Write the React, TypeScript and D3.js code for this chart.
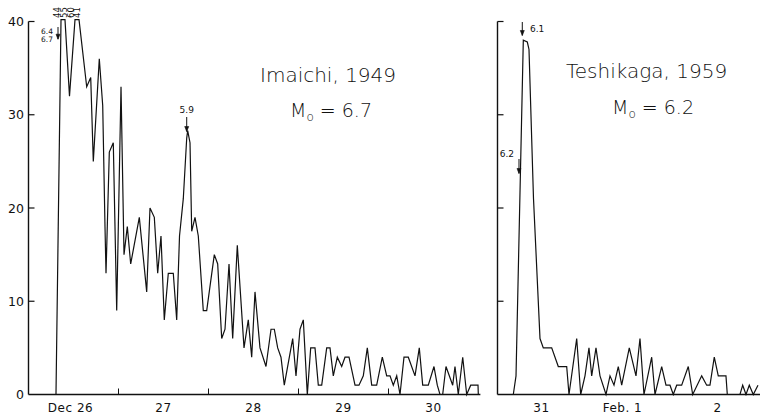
import React from 'react';
import * as d3 from 'd3';

// Imaichi 1949: hours since Dec 26 00:00, aftershock counts
const imaichiHours = [7.33, 8.67, 9.73, 10.93, 12.4, 13.47, 15.52, 16.59, 17.28, 18.88, 19.79, 20.4, 20.67, 21.55, 22.61, 23.52, 24.67, 25.47, 26.35, 27.25, 29.55, 31.52, 32.4, 33.55, 34.45, 35.33, 36.21, 37.28, 38.61, 39.52, 40.27, 41.28, 42.19, 42.45, 43.07, 43.52, 44.4, 45.28, 46.61, 47.52, 49.55, 50.45, 51.52, 52.4, 53.47, 54.45, 55.68, 57.47, 58.61, 59.52, 60.4, 61.73, 63.33, 64.67, 65.55, 66.45, 67.33, 68.21, 70.45, 71.33, 72.4, 73.28, 74.35, 75.25, 76.4, 77.28, 78.19, 79.52, 80.4, 81.28, 82.35, 83.52, 84.4, 85.47, 87.07, 88.13, 89.28, 90.35, 91.52, 92.85, 94.35, 95.52, 96.4, 97.28, 98.19, 99.07, 100.13, 101.28, 103.07, 104.21, 105.12, 106.61, 108.13, 109.01, 109.73, 110.45, 111.33, 113.12, 113.73, 114.61, 115.79, 116.85, 117.92, 119.07, 119.87, 119.95];
const imaichiCounts = [0, 44, 55, 32, 60, 41, 33, 34, 25, 36, 31, 18, 13, 26, 27, 9, 33, 15, 18, 14, 19, 11, 20, 19, 13, 17, 8, 13, 13, 8, 17, 21, 27.5, 28.3, 27, 17.5, 19, 17, 9, 9, 15, 14, 6, 7, 14, 6, 16, 5, 8, 4, 11, 5, 3, 7, 7, 5, 4, 1, 6, 2, 7, 8, 0, 5, 5, 1, 1, 5, 5, 2, 4, 3, 4, 4, 1, 1, 2, 5, 1, 1, 4, 2, 2, 1, 2, 0, 4, 4, 2, 5, 1, 1, 3, 1, 0, 0, 3, 1, 3, 0, 4, 0, 1, 1, 1, 0];

// Teshikaga 1959: hours since Jan 31 00:00, aftershock counts
const teshikagaHours = [4.31, 5.05, 7.04, 8.13, 8.59, 9.82, 11.59, 12.49, 14.78, 16.58, 18.87, 19.5, 21.6, 22.69, 23.86, 24.95, 25.69, 26.86, 27.95, 29.59, 30.68, 31.77, 32.94, 33.87, 35.94, 37.77, 38.86, 39.95, 42.05, 42.95, 44.78, 45.95, 47.04, 47.94, 48.87, 50.23, 52.03, 53.23, 55.69, 57.05, 57.95, 59.12, 60.21, 62.31, 62.67, 66.13, 66.87, 67.77, 68.67, 69.76, 71.04];
const teshikagaCounts = [0, 2, 38, 37.8, 37, 21, 6, 5, 5, 3, 3, 0, 6, 0, 2, 5, 2, 5, 2, 0, 2, 1, 3, 1, 5, 2, 6, 0, 4, 0, 3, 1, 1, 0, 1, 1, 3, 0, 2, 1, 1, 4, 2, 2, 0, 0, 1, 0, 1, 0, 1];

const yTicks = [0, 10, 20, 30, 40];
const leftDayLabels = ['Dec 26', '27', '28', '29', '30'];
const rightDayLabels = ['31', 'Feb. 1', '2'];
const peakLabels = ['44', '55', '60', '41'];
const peakLabelHours = [7.6, 9.4, 11.2, 13.0];

const FONT = '"DejaVu Sans", sans-serif';

export default function App() {
  const W = 760, H = 416;
  const y = d3.scaleLinear().domain([0, 40]).range([394.5, 21.5]);
  const xL = d3.scaleLinear().domain([0, 120]).range([28.5, 478.5]);
  const xR = d3.scaleLinear().domain([0, 72]).range([497.5, 761.5]);
  const clipV = (v: number) => y(Math.min(v, 40.2));

  const leftData = imaichiHours.map((h, i) => [h, imaichiCounts[i]] as [number, number]);
  const rightData = teshikagaHours.map((h, i) => [h, teshikagaCounts[i]] as [number, number]);
  const lineL = d3.line<[number, number]>().x(d => xL(d[0])).y(d => clipV(d[1]));
  const lineR = d3.line<[number, number]>().x(d => xR(d[0])).y(d => clipV(d[1]));

  const stroke = '#111';
  const txt = '#111';
  const arrow = (x: number, y1: number, y2: number, key: string) => (
    <g key={key}>
      <line x1={x} x2={x} y1={y1} y2={y2} stroke={stroke} strokeWidth={1} />
      <path d={`M${x - 2},${y2 - 5} L${x},${y2} L${x + 2},${y2 - 5} Z`} fill={stroke} stroke={stroke} strokeWidth={0.6} />
    </g>
  );

  const y0 = y(0);
  return (
    <svg width={W} height={H} style={{ position: 'absolute', left: 0, top: 0, background: '#fff' }} fontFamily={FONT}>
      <rect x={0} y={0} width={W} height={H} fill="#fff" />
      {/* Left panel axes */}
      <line x1={xL(0)} x2={xL(0)} y1={y(40)} y2={y0} stroke={stroke} strokeWidth={1.4} />
      <line x1={xL(0)} x2={xL(120.5)} y1={y0} y2={y0} stroke={stroke} strokeWidth={1.4} />
      {yTicks.filter(t => t > 0).map(t => (
        <line key={'lt' + t} x1={xL(0)} x2={xL(0) + 6} y1={y(t)} y2={y(t)} stroke={stroke} strokeWidth={1.2} />
      ))}
      {yTicks.map(t => (
        <text key={'ll' + t} x={24} y={y(t) + 4.5} textAnchor="end" fontSize={12.5} fill={txt}>{t}</text>
      ))}
      {[1, 2, 3, 4].map(d => (
        <line key={'dt' + d} x1={xL(d * 24)} x2={xL(d * 24)} y1={y0} y2={y0 - 6} stroke={stroke} strokeWidth={1} />
      ))}
      {leftDayLabels.map((lab, i) => (
        <text key={'dl' + i} x={xL(i * 24 + 12) + (i === 0 ? -3 : 0)} y={412} textAnchor="middle" fontSize={12} fill={txt} letterSpacing={0.5}>{lab}</text>
      ))}

      {/* Right panel axes */}
      <line x1={xR(0)} x2={xR(0)} y1={y(40)} y2={y0} stroke={stroke} strokeWidth={1.4} />
      <line x1={xR(0)} x2={W} y1={y0} y2={y0} stroke={stroke} strokeWidth={1.4} />
      {yTicks.filter(t => t > 0).map(t => (
        <line key={'rt' + t} x1={xR(0)} x2={xR(0) + 6} y1={y(t)} y2={y(t)} stroke={stroke} strokeWidth={1.2} />
      ))}
      {rightDayLabels.map((lab, i) => (
        <text key={'rl' + i} x={xR(i * 24 + 12) + (i === 1 ? -7 : 0)} y={412} textAnchor="middle" fontSize={12} fill={txt} letterSpacing={0.5}>{lab}</text>
      ))}

      {/* Data lines */}
      <path d={lineL(leftData) || ''} fill="none" stroke={stroke} strokeWidth={1.2} strokeLinejoin="miter" />
      <path d={lineR(rightData) || ''} fill="none" stroke={stroke} strokeWidth={1.2} strokeLinejoin="miter" />

      {/* Peak count labels (rotated) */}
      {peakLabels.map((lab, i) => (
        <text key={'pk' + i} transform={`translate(${xL(peakLabelHours[i]) + 3},18) rotate(-90)`} fontSize={8.5} fill={txt}>{lab}</text>
      ))}

      {/* Magnitude annotations */}
      <text x={53} y={33.5} textAnchor="end" fontSize={7.5} fill={txt}>6.4</text>
      <text x={53} y={42} textAnchor="end" fontSize={7.5} fill={txt}>6.7</text>
      {arrow(xL(7.87), 27, y(38.1), 'a1')}
      <text x={xL(42.19)} y={113} textAnchor="middle" fontSize={9} fill={txt}>5.9</text>
      {arrow(xL(42.19), 117, y(28.2), 'a2')}
      <text x={530} y={31.5} fontSize={9} fill={txt}>6.1</text>
      {arrow(xR(6.76), 22, y(38.5), 'a3')}
      <text x={514} y={156.5} textAnchor="end" fontSize={9} fill={txt}>6.2</text>
      {arrow(xR(5.86), 159, y(23.7), 'a4')}

      {/* Titles */}
      <text x={260} y={82} fontSize={20} fill={txt} fontWeight={200}>Imaichi, 1949</text>
      <text x={290} y={117} fontSize={19} fill={txt} fontWeight={200}>M<tspan fontSize={12} dy={4}>o</tspan><tspan dy={-4}> = 6.7</tspan></text>
      <text x={566} y={78} fontSize={20} fill={txt} fontWeight={200}>Teshikaga, 1959</text>
      <text x={612} y={114} fontSize={19} fill={txt} fontWeight={200}>M<tspan fontSize={12} dy={4}>o</tspan><tspan dy={-4}> = 6.2</tspan></text>
    </svg>
  );
}
